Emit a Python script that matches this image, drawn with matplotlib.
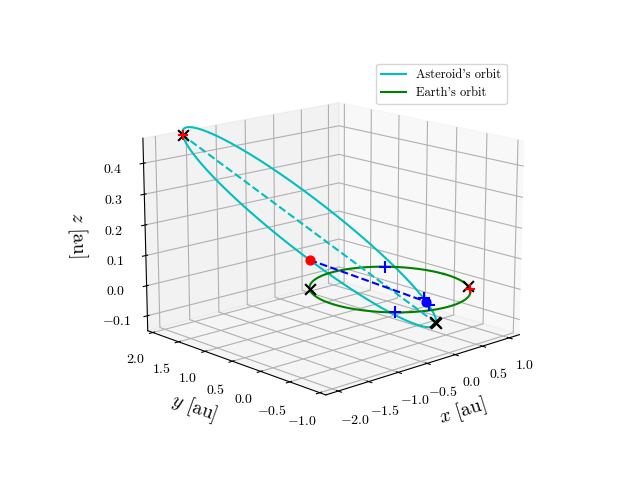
import numpy as np
import matplotlib
matplotlib.use("Agg")
import matplotlib.pyplot as plt

plt.rcParams.update({
    "font.family": "serif",
    "font.serif": ["cmr10"],
    "mathtext.fontset": "cm",
    "axes.formatter.use_mathtext": True,
    "axes.unicode_minus": True,
})

# orbital elements of the asteroid (au, deg)
a_ast = 1.6
e_ast = 0.63
inc = 14.0
Omega = 84.0
omega = 230.0
r_earth = 1.0

# Earth marker angles on its orbit (deg)
earth_x_ang = [140.0, -35.0]
earth_plus_ang = [47.0, 227.0]
red_plus_ang = [-42.0]
# asteroid marker true anomalies (deg)
ast_plus_nu = [-55.0, -45.0]


def orbit(a, e, i, O, w, nu):
    i, O, w = np.radians([i, O, w])
    r = a * (1 - e**2) / (1 + e * np.cos(nu))
    u = w + nu
    x = r * (np.cos(O) * np.cos(u) - np.sin(O) * np.sin(u) * np.cos(i))
    y = r * (np.sin(O) * np.cos(u) + np.cos(O) * np.sin(u) * np.cos(i))
    z = r * np.sin(u) * np.sin(i)
    return np.array([x, y, z])


def earth(ang):
    t = np.radians(ang)
    return np.array([r_earth * np.cos(t), r_earth * np.sin(t), 0 * t])


nu = np.linspace(0, 2 * np.pi, 400)
ast = orbit(a_ast, e_ast, inc, Omega, omega, nu)
ring = earth(np.degrees(nu))
peri = orbit(a_ast, e_ast, inc, Omega, omega, 0.0)
aph = orbit(a_ast, e_ast, inc, Omega, omega, np.pi)
n1 = orbit(a_ast, e_ast, inc, Omega, omega, np.radians(-omega))
n2 = orbit(a_ast, e_ast, inc, Omega, omega, np.radians(180 - omega))

fig = plt.figure(figsize=(6.4, 4.8))
ax = fig.add_subplot(111, projection="3d")
ax.plot(*ast, color="c", label="Asteroid's orbit")
ax.plot(*ring, color="g", label="Earth's orbit")
ax.plot(*np.c_[peri, aph], "c--")
ax.plot(*np.c_[n1, n2], "b--")
ax.scatter(*n1, color="r", s=40, depthshade=False)
ax.scatter(*n2, color="b", s=40, depthshade=False)
for ang in earth_plus_ang:
    ax.scatter(*earth(ang), color="b", marker="+", s=70, depthshade=False)
for v in ast_plus_nu:
    ax.scatter(*orbit(a_ast, e_ast, inc, Omega, omega, np.radians(v)),
               color="b", marker="+", s=70, depthshade=False)
for ang in earth_x_ang:
    ax.scatter(*earth(ang), color="k", marker="x", s=60, depthshade=False)
for p in [peri, aph, peri * 0.97]:
    ax.scatter(*p, color="k", marker="x", s=60, depthshade=False)
for ang in red_plus_ang:
    ax.scatter(*earth(ang), color="r", marker="+", s=60, depthshade=False)
ax.scatter(*aph, color="r", marker="+", s=60, depthshade=False)

ax.set_xlim(-2.2, 1.2)
ax.set_ylim(-1.1, 2.1)
ax.set_zlim(-0.15, 0.48)
ax.set_xticks([-2.0, -1.5, -1.0, -0.5, 0.0, 0.5, 1.0])
ax.set_yticks([-1.0, -0.5, 0.0, 0.5, 1.0, 1.5, 2.0])
ax.set_zticks([-0.1, 0.0, 0.1, 0.2, 0.3, 0.4])
ax.set_xlabel("$x$ [au]", fontsize=14)
ax.set_ylabel("$y$ [au]", fontsize=14)
ax.set_zlabel("$z$ [au]", fontsize=14)
ax.view_init(elev=15, azim=-133)
ax.set_box_aspect(None, zoom=1.12)
ax.legend(loc="upper right", fontsize=9)
fig.savefig("out.png", dpi=100)
